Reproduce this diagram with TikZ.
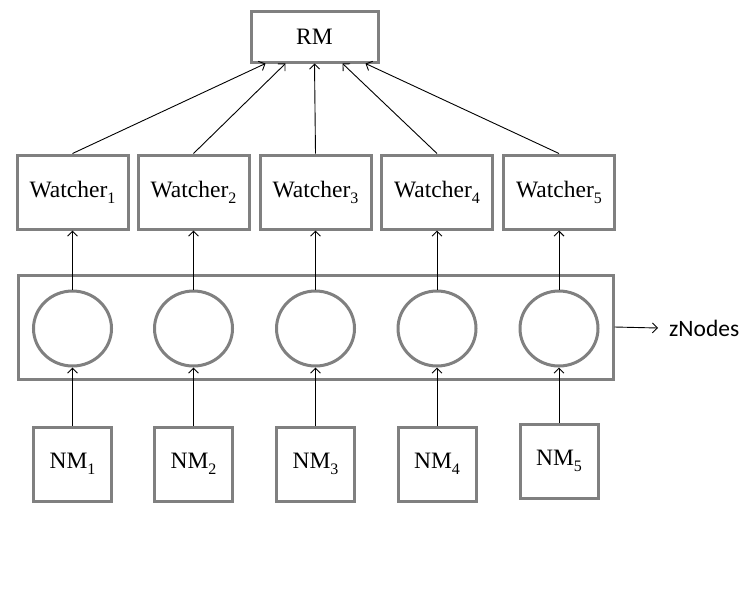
\documentclass[tikz,border=0pt]{standalone}
\usepackage{fontspec}
\setmainfont{Liberation Serif}
\newfontfamily\labelfont{Carlito}
\usetikzlibrary{arrows.meta,shapes.geometric}
\definecolor{boxgray}{RGB}{128,128,128}
\newcommand{\idx}[1]{\raisebox{-0.25em}{\fontsize{16}{16}\selectfont #1}}
\tikzset{
  box/.style={draw=boxgray, line width=3pt, fill=white,
    inner sep=0pt, align=center,
    font=\fontsize{23.5}{26}\selectfont
  },
  watcher/.style={box, minimum width=111pt, minimum height=74pt},
  nm/.style={box, minimum width=78pt, minimum height=74pt},
  znode/.style={ellipse, draw=boxgray, line width=3pt,
    minimum width=78pt, minimum height=75pt, inner sep=0pt},
  link/.style={-{Straight Barb[length=5pt,width=10pt]}, line width=0.9pt}
}
\begin{document}
\begin{tikzpicture}[x=1pt,y=-1pt]
  \useasboundingbox (0,0) rectangle (752,611);
  \node[box, minimum width=127pt, minimum height=51pt] (RM) at (314.5,36.5) {RM};
  \node[box, minimum width=595pt, minimum height=104pt] (zNodes) at (315.5,327) {};
  % five columns
  \foreach \i/\x/\y in {1/72.5/464, 2/193.5/464, 3/315.5/464, 4/437/464, 5/559/461}
  {
    \node[watcher] (W\i) at (\x,192) {Watcher\idx{\i}};
    \node[znode] (Z\i) at (\x,328.5) {};
    \node[nm] (NM\i) at (\x,\y) {NM\idx{\i}};
    \draw[link] (NM\i) -- (Z\i);
    \draw[link] (Z\i) -- (W\i);
  }
  \foreach \i/\dx in {1/-49, 2/-29, 3/0, 4/28, 5/51}
    \draw[link] (W\i.north) -- ([xshift=\dx pt]RM.south);
  \node[anchor=west, inner xsep=11pt, inner ysep=2pt, font=\labelfont\fontsize{23.5}{26}\selectfont] (zlabel) at (658,328) {zNodes};
  \draw[link] (zNodes.east) -- (zlabel.west);
\end{tikzpicture}
\end{document}
